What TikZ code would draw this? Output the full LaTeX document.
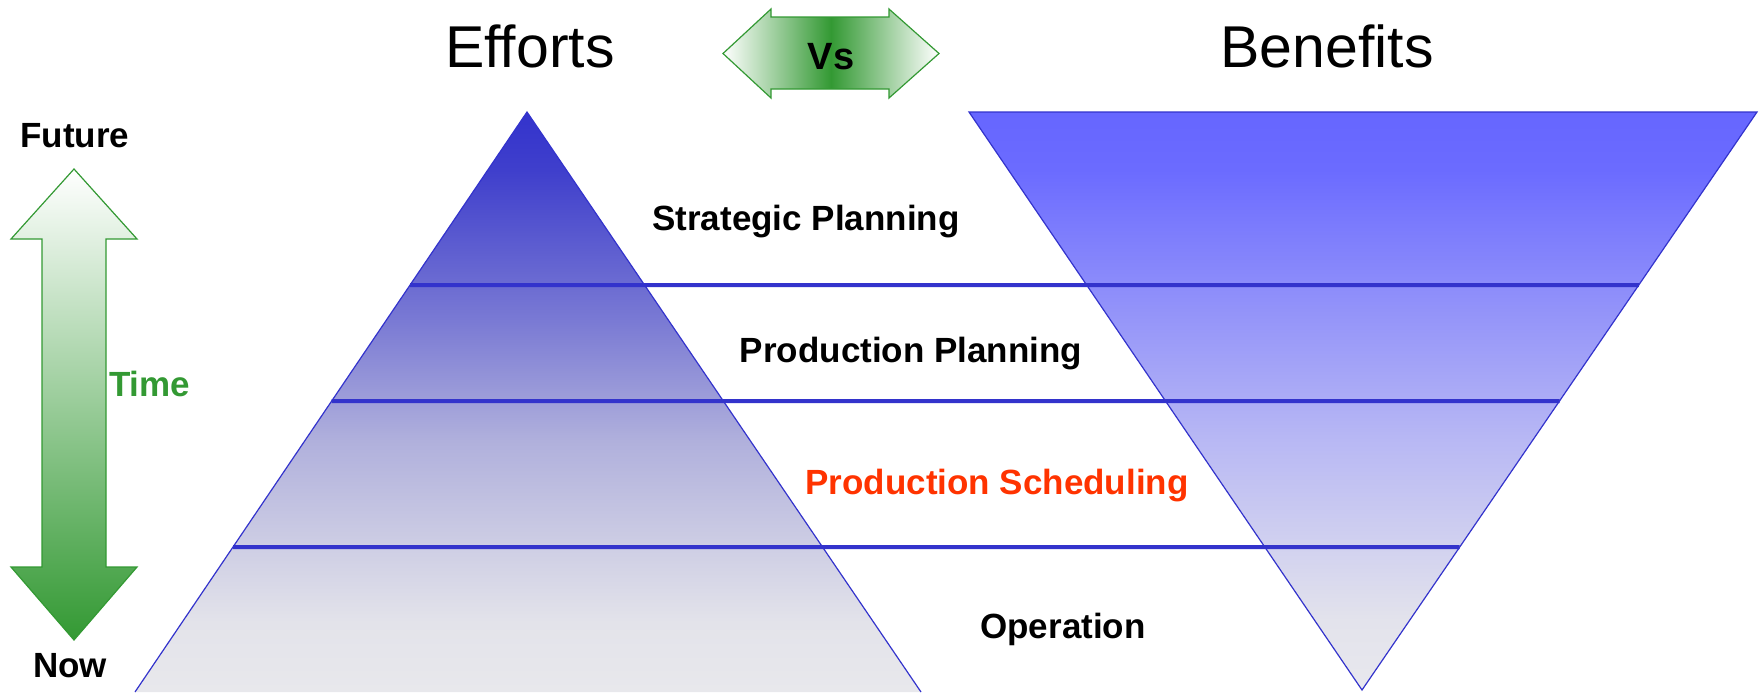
\documentclass[tikz,border=0pt]{standalone}
\usepackage{fontspec}
\setmainfont{Liberation Sans}
\usetikzlibrary{calc}

\definecolor{effortblue}{RGB}{51,51,204}
\definecolor{benefitblue}{RGB}{102,102,255}
\definecolor{basegray}{RGB}{232,232,236}
\definecolor{timegreen}{RGB}{51,153,51}
\definecolor{schedred}{RGB}{255,51,0}

% fades measured off the two triangles (bottom to top)
\pgfdeclareverticalshading{effortfade}{100bp}{rgb(0bp)=(0.91,0.91,0.925); rgb(25bp)=(0.91,0.91,0.925);
  rgb(31bp)=(0.89,0.89,0.918); rgb(46.7bp)=(0.69,0.69,0.863); rgb(57bp)=(0.478,0.478,0.831);
  rgb(70bp)=(0.247,0.247,0.8); rgb(75bp)=(0.2,0.2,0.8); rgb(100bp)=(0.2,0.2,0.8)}
\pgfdeclareverticalshading{benefitfade}{100bp}{rgb(0bp)=(0.91,0.91,0.933); rgb(25bp)=(0.91,0.91,0.933);
  rgb(31bp)=(0.89,0.89,0.925); rgb(46.6bp)=(0.722,0.722,0.957);
  rgb(70bp)=(0.42,0.42,1); rgb(75bp)=(0.4,0.4,1); rgb(100bp)=(0.4,0.4,1)}

\tikzset{
  levelline/.style={effortblue, line width=2pt},
  edgeline/.style={effortblue, line width=0.6pt},
  levellabel/.style={font=\fontsize{17.5}{21}\selectfont\bfseries},
  headlabel/.style={font=\fontsize{29.5}{35}\selectfont},
}

\begin{document}
\begin{tikzpicture}[x=0.5pt, y=-0.5pt]
\useasboundingbox (0,0) rectangle (1762,692);

% efforts pyramid
\coordinate (top) at (527,112);
\coordinate (bl) at (135,692);
\coordinate (br) at (921,692);
\shade[shading=effortfade] (top) -- (bl) -- (br) -- cycle;
\draw[edgeline] (bl) -- (top) -- (br);

% benefits funnel
\coordinate (tl) at (969,112);
\coordinate (tr) at (1757,112);
\coordinate (tip) at (1362,690);
\shade[shading=benefitfade] (tl) -- (tr) -- (tip) -- cycle;
\draw[edgeline] (tl) -- (tr) -- (tip) -- cycle;

\foreach \y in {285,401,547}
{
    \draw[levelline] ($(top)!{(\y-112)/580}!(bl)$) -- ($(tr)!{(\y-112)/578}!(tip)$);
}

\node[headlabel] (efforts) at (530,46) {Efforts};
\node[headlabel] (benefits) at (1327,46) {Benefits};

\node[levellabel] (strat) at (806,222) {Strategic Planning};
\node[levellabel] (prodplan) at (911,354) {Production Planning};
\node[levellabel, text=schedred] (sched) at (997,486) {Production Scheduling};
\node[levellabel] (oper) at (1063,629) {Operation};

% vs arrow
\shade[left color=white, right color=white, middle color=timegreen]
  (723,53.5) -- (771,9) -- (771,17) -- (889,17) -- (889,9) -- (939,53.5)
  -- (889,98) -- (889,89) -- (771,89) -- (771,98) -- cycle;
\draw[timegreen, line width=0.6pt]
  (723,53.5) -- (771,9) -- (771,17) -- (889,17) -- (889,9) -- (939,53.5)
  -- (889,98) -- (889,89) -- (771,89) -- (771,98) -- cycle;
\node[font=\fontsize{19}{22}\selectfont\bfseries] (vs) at (831,57) {Vs};

% time arrow
\shade[top color=white, bottom color=timegreen]
  (74,169) -- (137,239) -- (106,239) -- (106,567) -- (137,567) -- (74,640)
  -- (11,567) -- (42,567) -- (42,239) -- (11,239) -- cycle;
\draw[timegreen, line width=0.6pt]
  (74,169) -- (137,239) -- (106,239) -- (106,567) -- (137,567) -- (74,640)
  -- (11,567) -- (42,567) -- (42,239) -- (11,239) -- cycle;

\node[levellabel] (future) at (75,136) {Future};
\node[levellabel] (now) at (70,666) {Now};
\node[levellabel, text=timegreen, anchor=west] (time) at (102,384) {Time};

\end{tikzpicture}
\end{document}
